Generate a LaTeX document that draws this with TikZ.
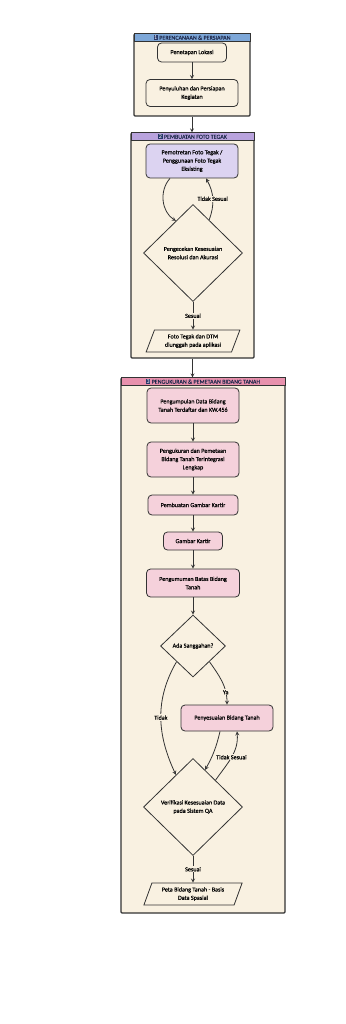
\documentclass[tikz,border=0pt]{standalone}
\usepackage{fontspec}
\setmainfont{Carlito}[FakeBold=0.3]
\newfontfamily\badgefont{Carlito}
\usetikzlibrary{positioning, shapes.geometric}

\definecolor{cream}{HTML}{F9F1E1}
\definecolor{frame}{HTML}{333333}
\definecolor{bannerblue}{HTML}{7DA7D8}
\definecolor{bannerpurple}{HTML}{B9A3DD}
\definecolor{bannerpink}{HTML}{E891AD}
\definecolor{fotopurple}{HTML}{DCD3F1}
\definecolor{ukurpink}{HTML}{F5D1DB}
\definecolor{badgenavy}{HTML}{27386A}
\definecolor{navytext}{HTML}{1F2A4D}

\newcommand{\numbadge}[1]{{\setlength{\fboxsep}{0.7pt}\colorbox{badgenavy}{\badgefont\textcolor{white}{#1}}}}

\begin{document}
\begin{tikzpicture}[
    x=1pt, y=1pt,
    font=\fontsize{6.1}{8.3}\selectfont,
    stage/.style={rectangle, rounded corners=1pt, draw=frame, line width=1.1pt, fill=cream},
    banner/.style={rectangle, draw=frame, line width=0.7pt, minimum height=8pt, inner sep=0pt, anchor=north, text=navytext, font=\fontsize{6}{6}\selectfont},
    process/.style={rectangle, rounded corners=4pt, draw=frame, line width=0.8pt, align=center, inner sep=2pt},
    decision/.style={diamond, draw=frame, line width=0.8pt, fill=cream, align=center, inner sep=1pt},
    io/.style={trapezium, trapezium left angle=68, trapezium right angle=112, trapezium stretches=true, draw=frame, line width=0.8pt, fill=cream, align=center, inner sep=1pt},
    tag/.style={fill=cream, inner sep=1pt},
    flow/.style={->, >=stealth, line width=0.8pt, draw=frame}
]
    \fill[white] (0,0) rectangle (345,-1024);
    \useasboundingbox (0,0) rectangle (345,-1024);

    % Stage frames
    \node[stage, minimum width=116, minimum height=82] (grp1) at (192,-75) {};
    \node[stage, minimum width=123, minimum height=225] (grp2) at (192.5,-245.5) {};
    \node[stage, minimum width=164, minimum height=535] (grp3) at (203,-645.5) {};

    \node[banner, fill=bannerblue, minimum width=116] (ban1) at (grp1.north) {\numbadge{1} PERENCANAAN \& PERSIAPAN};
    \node[banner, fill=bannerpurple, minimum width=123] (ban2) at (grp2.north) {\numbadge{2} PEMBUATAN FOTO TEGAK};
    \node[banner, fill=bannerpink, minimum width=164] (ban3) at (grp3.north) {\numbadge{3} PENGUKURAN \& PEMETAAN BIDANG TANAH};

    % Stage 1 nodes
    \node[process, fill=cream, minimum width=69, minimum height=19] (lokasi) at (192,-52.5) {Penetapan Lokasi};
    \node[process, fill=cream, minimum width=92, minimum height=27] (penyuluhan) at (192,-93) {Penyuluhan dan Persiapan\\Kegiatan};

    % Stage 2 nodes
    \node[process, fill=fotopurple, minimum width=92, minimum height=34] (foto) at (192,-161) {Pemotretan Foto Tegak /\\Penggunaan Foto Tegak\\Eksisting};
    \node[decision, minimum width=99, minimum height=97] (cek) at (193,-253) {Pengecekan Kesesuaian\\Resolusi dan Akurasi};
    \node[io, minimum width=94, minimum height=22] (unggah) at (193,-341) {Foto Tegak dan DTM\\diunggah pada aplikasi};

    % Stage 3 nodes
    \node[process, fill=ukurpink, minimum width=92, minimum height=35] (kumpul) at (193,-405.5) {Pengumpulan Data Bidang\\Tanah Terdaftar dan KW.456};
    \node[process, fill=ukurpink, minimum width=92, minimum height=35] (ukur) at (193,-459.5) {Pengukuran dan Pemetaan\\Bidang Tanah Terintegrasi\\Lengkap};
    \node[process, fill=ukurpink, minimum width=90, minimum height=20] (buat) at (193,-505) {Pembuatan Gambar Kartir};
    \node[process, fill=ukurpink, minimum width=59, minimum height=18] (kartir) at (193,-541) {Gambar Kartir};
    \node[process, fill=ukurpink, minimum width=93, minimum height=28] (umum) at (193,-583) {Pengumuman Batas Bidang\\Tanah};
    \node[decision, minimum width=65, minimum height=62] (sanggah) at (193,-646) {Ada Sanggahan?};
    \node[process, fill=ukurpink, minimum width=92, minimum height=26] (adjust) at (227,-718) {Penyesuaian Bidang Tanah};
    \node[decision, minimum width=99, minimum height=97] (verif) at (193,-807) {Verifikasi Kesesuaian Data\\pada Sistem QA};
    \node[io, minimum width=99, minimum height=22] (peta) at (193,-894) {Peta Bidang Tanah - Basis\\Data Spasial};

    % Stage links
    \draw[flow] (grp1.south) -- (grp1.south |- grp2.north);
    \draw[flow] (grp2.south) -- (grp2.south |- grp3.north);

    % Stage 1 edges
    \draw[flow] (lokasi) -- (penyuluhan);

    % Stage 2 edges
    \draw[flow] ([xshift=-22pt]foto.south) to[bend right=50] (cek.118);
    \draw[flow] (cek.64) to[bend right=25] node[tag] {Tidak Sesuai} ([xshift=14pt]foto.south);
    \draw[flow] (cek) -- node[tag] {Sesuai} (unggah);

    % Stage 3 edges
    \draw[flow] (kumpul) -- (ukur);
    \draw[flow] (ukur) -- (buat);
    \draw[flow] (buat) -- (kartir);
    \draw[flow] (kartir) -- (umum);
    \draw[flow] (umum) -- (sanggah);
    \draw[flow] (sanggah.south east) to[out=-55, in=90] node[tag, pos=0.75] {Ya} (adjust.north);
    \draw[flow] (sanggah.south west) to[out=-120, in=115] node[tag] {Tidak} (verif.118);
    \draw[flow] ([xshift=-7pt]adjust.south) to[bend left=8] (verif.72);
    \draw[flow] (verif.50) to[out=55, in=-85] node[tag] {Tidak Sesuai} ([xshift=10pt]adjust.south);
    \draw[flow] (verif) -- node[tag] {Sesuai} (peta);
\end{tikzpicture}
\end{document}
